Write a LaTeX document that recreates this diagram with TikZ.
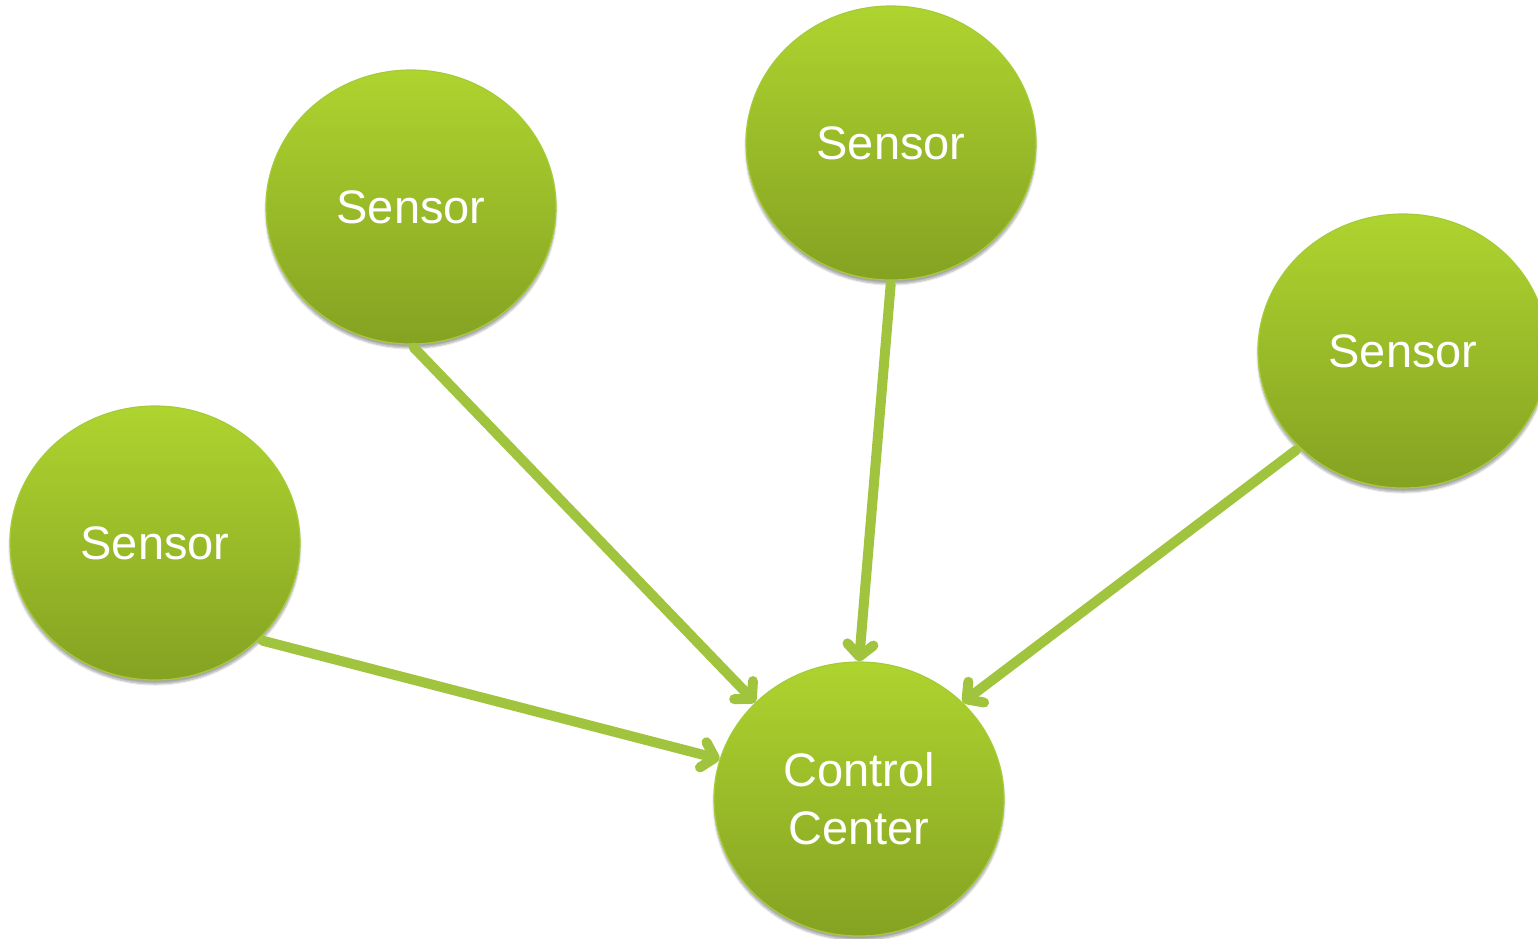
\documentclass[tikz,border=0pt]{standalone}
\usepackage{fontspec}
\setmainfont{Liberation Sans}
\usetikzlibrary{shapes.geometric,arrows.meta,shadows.blur}
\definecolor{topgreen}{HTML}{AED42F}
\definecolor{botgreen}{HTML}{85A222}
\definecolor{rimgreen}{HTML}{A6CB3A}
\definecolor{linkgreen}{HTML}{A1C43E}
\tikzset{
  bubble/.style={ellipse, minimum width=290pt, minimum height=274pt, inner sep=0pt,
    top color=topgreen, bottom color=botgreen, draw=rimgreen, line width=1.2pt,
    text=white, align=center, font=\fontsize{47}{58}\selectfont,
    blur shadow={shadow xshift=0pt, shadow yshift=-4pt, shadow blur steps=6, shadow opacity=35}},
  link/.style={draw=linkgreen, line width=10pt, line cap=round, line join=round,
    shorten <=4pt,
    -{Straight Barb[length=12pt,width=26pt,round]},
    preaction={draw=black, draw opacity=0.07, transform canvas={shift={(1.5pt,-2pt)}}}}
}
\begin{document}
\begin{tikzpicture}[x=1pt,y=-1pt]
  \useasboundingbox (0,0) rectangle (1538,938);
  \begin{scope}
    \clip (0,0) rectangle (1538,938);
    \node[bubble] (s1) at (155,543) {Sensor};
    \node[bubble] (s2) at (411,207) {Sensor};
    \node[bubble] (s3) at (891,143) {Sensor};
    \node[bubble] (s4) at (1403,351) {Sensor};
    \node[bubble] (cc) at (859,799) {Control\\Center};
    \draw[link] (s1.-43) -- (cc.164);
    \draw[link] (s2.south) -- (cc.137);
    \draw[link] (s3.south) -- (cc.north);
    \draw[link] (s4.-137) -- (cc.43);
  \end{scope}
\end{tikzpicture}
\end{document}
